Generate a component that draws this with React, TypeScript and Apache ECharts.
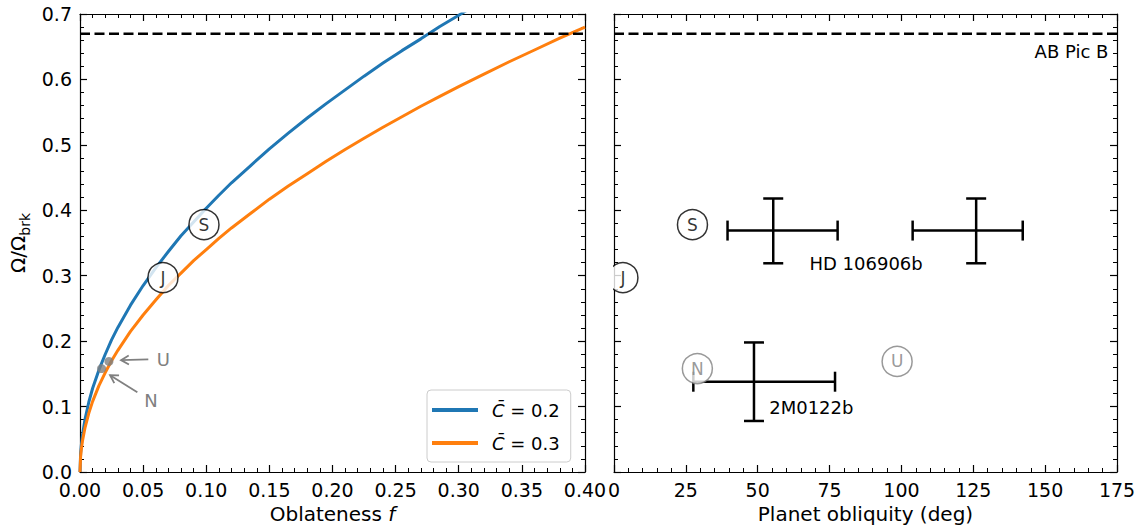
import React, { useEffect, useRef } from "react";
import * as echarts from "echarts";

// ---- Data ----
const oblatenessBlue = [0, 0.0005, 0.001, 0.002, 0.004, 0.007, 0.01, 0.015, 0.02, 0.025, 0.03, 0.04, 0.05, 0.06, 0.07, 0.08, 0.09, 0.1, 0.11, 0.12, 0.135, 0.15, 0.165, 0.18, 0.195, 0.21, 0.225, 0.24, 0.255, 0.27, 0.285, 0.3, 0.31];
const omegaBlue = [0, 0.029, 0.040, 0.057, 0.081, 0.107, 0.128, 0.156, 0.180, 0.202, 0.221, 0.255, 0.285, 0.312, 0.337, 0.361, 0.382, 0.403, 0.423, 0.442, 0.468, 0.494, 0.518, 0.541, 0.563, 0.584, 0.605, 0.625, 0.644, 0.662, 0.681, 0.698, 0.710];
const oblatenessOrange = [0, 0.0005, 0.001, 0.002, 0.004, 0.007, 0.01, 0.015, 0.02, 0.025, 0.03, 0.04, 0.05, 0.06, 0.07, 0.08, 0.09, 0.1, 0.11, 0.12, 0.135, 0.15, 0.165, 0.18, 0.195, 0.21, 0.225, 0.24, 0.255, 0.27, 0.285, 0.3, 0.32, 0.34, 0.36, 0.38, 0.4];
const omegaOrange = [0, 0.024, 0.034, 0.048, 0.068, 0.090, 0.108, 0.132, 0.152, 0.170, 0.186, 0.215, 0.240, 0.263, 0.285, 0.304, 0.323, 0.340, 0.357, 0.373, 0.395, 0.417, 0.437, 0.456, 0.475, 0.493, 0.510, 0.527, 0.543, 0.559, 0.574, 0.589, 0.608, 0.627, 0.645, 0.663, 0.680];
const seriesNames = ["C̄ = 0.2", "C̄ = 0.3"];

const breakupLimit = 0.67; // AB Pic B

const gasGiantNames = ["J", "S"];
const gasGiantF = [0.0657, 0.0982];
const gasGiantOmega = [0.297, 0.378];
const gasGiantObliquity = [3.1, 27.3];

const iceGiantNames = ["U", "N"];
const iceGiantF = [0.0229, 0.0171];
const iceGiantOmega = [0.169, 0.158];
const iceGiantObliquity = [98.5, 29.0];

// error bars: [obliquity, omega, obliquityLow, obliquityHigh, omegaLow, omegaHigh]
const errorBarPoints = [
  [55.4, 0.369, 39.5, 77.8, 0.319, 0.418],
  [126.0, 0.369, 103.9, 142.2, 0.319, 0.418],
  [48.7, 0.138, 27.6, 76.9, 0.078, 0.198],
];

// annotations
const arrowLabels = ["U", "N"];
const arrowLabelF = [0.066, 0.0562];
const arrowLabelOmega = [0.172, 0.110];
const arrowTailF = [0.0541, 0.0454];
const arrowTailOmega = [0.172, 0.122];
const arrowHeadF = [0.0325, 0.0238];
const arrowHeadOmega = [0.171, 0.148];

const objectLabels = ["HD 106906b", "2M0122b", "AB Pic B"];
const objectLabelObliquity = [68.0, 54.0, 172.0];
const objectLabelOmega = [0.319, 0.099, 0.642];
const objectLabelAlign = ["left", "left", "right"];

const FONT = "DejaVu Sans";
const GRAY = "#808080";
const BLUE = "#1f77b4";
const ORANGE = "#ff7f0e";
const TICK_FS = 19;
const NAME_FS = 20;
const ANNOT_FS = 18;

function frameAxis(extra: any) {
  return {
    type: "value",
    axisLine: { show: true, onZero: false, lineStyle: { color: "#000", width: 1.2 } },
    axisTick: { show: true, inside: true, length: 7, lineStyle: { color: "#000", width: 1.2 } },
    minorTick: { show: true, splitNumber: 5, length: 4, lineStyle: { color: "#000", width: 1 } },
    splitLine: { show: false },
    minorSplitLine: { show: false },
    axisLabel: { show: false },
    ...extra,
  };
}

const labelStyle = { show: true, color: "#000", fontSize: TICK_FS, fontFamily: FONT, showMinLabel: true, showMaxLabel: true };

export default function App() {
  const ref = useRef<HTMLDivElement>(null);
  useEffect(() => {
    document.body.style.margin = "0";
    const chart = echarts.init(ref.current!, null, { renderer: "svg" });

    const textSeries = (xIdx: number, texts: string[], xs: number[], ys: number[], aligns: string[], color: string) => ({
      type: "custom",
      xAxisIndex: xIdx,
      yAxisIndex: xIdx,
      z: 5,
      silent: true,
      data: xs.map((x, i) => [x, ys[i]]),
      renderItem: (params: any, api: any) => {
        const p = api.coord([api.value(0), api.value(1)]);
        const i = params.dataIndex;
        return {
          type: "text",
          x: p[0],
          y: p[1],
          style: { text: texts[i], fill: color, fontSize: ANNOT_FS, fontFamily: FONT, align: aligns[i], verticalAlign: "middle" },
        };
      },
    });

    const option: any = {
      animation: false,
      textStyle: { fontFamily: FONT },
      grid: [
        { left: 80, top: 14, width: 505, height: 458 },
        { left: 614, top: 14, width: 503, height: 458 },
      ],
      xAxis: [
        frameAxis({
          gridIndex: 0, position: "bottom", min: 0, max: 0.4, interval: 0.05,
          axisLabel: { ...labelStyle, margin: 8, formatter: (v: number) => v.toFixed(2) },
          name: "{n|Oblateness }{i|f}", nameLocation: "middle", nameGap: 28,
          nameTextStyle: { rich: { n: { fontSize: NAME_FS, fontFamily: FONT, color: "#000" }, i: { fontSize: NAME_FS, fontFamily: FONT, fontStyle: "italic", color: "#000" } } },
        }),
        frameAxis({ gridIndex: 0, position: "top", min: 0, max: 0.4, interval: 0.05 }),
        frameAxis({
          gridIndex: 1, position: "bottom", min: 0, max: 175, interval: 25,
          axisLabel: { ...labelStyle, margin: 8, formatter: (v: number) => String(v) },
          name: "Planet obliquity (deg)", nameLocation: "middle", nameGap: 28,
          nameTextStyle: { fontSize: NAME_FS, fontFamily: FONT, color: "#000" },
        }),
        frameAxis({ gridIndex: 1, position: "top", min: 0, max: 175, interval: 25 }),
      ],
      yAxis: [
        frameAxis({
          gridIndex: 0, position: "left", min: 0, max: 0.7, interval: 0.1,
          axisLabel: { ...labelStyle, margin: 8, formatter: (v: number) => v.toFixed(1) },
          name: "{a|Ω/Ω}{s|brk}", nameLocation: "middle", nameGap: 48, nameRotate: 90,
          nameTextStyle: {
            rich: {
              a: { fontSize: NAME_FS, fontFamily: FONT, color: "#000", lineHeight: 28, verticalAlign: "middle" },
              s: { fontSize: 14, fontFamily: FONT, color: "#000", lineHeight: 28, verticalAlign: "bottom" },
            },
          },
        }),
        frameAxis({ gridIndex: 0, position: "right", min: 0, max: 0.7, interval: 0.1 }),
        frameAxis({ gridIndex: 1, position: "left", min: 0, max: 0.7, interval: 0.1 }),
        frameAxis({ gridIndex: 1, position: "right", min: 0, max: 0.7, interval: 0.1 }),
      ],
      legend: {
        left: 427,
        top: 390,
        orient: "vertical",
        data: seriesNames.map((n) => ({ name: n, icon: "rect" })),
        itemWidth: 46,
        itemHeight: 4,
        itemGap: 11,
        padding: [9, 11, 8, 5],
        borderColor: "#cccccc",
        borderWidth: 1,
        borderRadius: 4,
        backgroundColor: "rgba(255,255,255,0.85)",
        formatter: (name: string) => `{i|C̄} = ${name.split("= ")[1]}`,
        textStyle: {
          fontSize: ANNOT_FS, fontFamily: FONT, color: "#000", padding: [0, 0, 0, 9], lineHeight: 22,
          rich: { i: { fontSize: ANNOT_FS, fontFamily: FONT, fontStyle: "italic", color: "#000", lineHeight: 22 } },
        },
      },
      series: [
        {
          name: seriesNames[0], type: "line", xAxisIndex: 0, yAxisIndex: 0, showSymbol: false, clip: true,
          lineStyle: { color: BLUE, width: 3, join: "round" }, itemStyle: { color: BLUE }, z: 2,
          data: oblatenessBlue.map((f, i) => [f, omegaBlue[i]]),
        },
        {
          name: seriesNames[1], type: "line", xAxisIndex: 0, yAxisIndex: 0, showSymbol: false, clip: true,
          lineStyle: { color: ORANGE, width: 3, join: "round" }, itemStyle: { color: ORANGE }, z: 2,
          data: oblatenessOrange.map((f, i) => [f, omegaOrange[i]]),
        },
        {
          type: "line", xAxisIndex: 0, yAxisIndex: 0, showSymbol: false, silent: true,
          lineStyle: { color: "#000", width: 2.5, type: [10, 4.5] }, z: 2,
          data: [[0, breakupLimit], [0.4, breakupLimit]],
        },
        {
          type: "line", xAxisIndex: 2, yAxisIndex: 2, showSymbol: false, silent: true,
          lineStyle: { color: "#000", width: 2.5, type: [10, 4.5] }, z: 2,
          data: [[0, breakupLimit], [175, breakupLimit]],
        },
        // Jupiter / Saturn circles (left)
        {
          type: "scatter", xAxisIndex: 0, yAxisIndex: 0, symbol: "circle", symbolSize: 30, z: 4,
          itemStyle: { color: "#fff", borderColor: "#000", borderWidth: 1.5 },
          label: { show: true, position: "inside", color: "#000", fontSize: 17, fontFamily: FONT, formatter: (p: any) => gasGiantNames[p.dataIndex] },
          data: gasGiantF.map((f, i) => [f, gasGiantOmega[i]]),
        },
        // Uranus / Neptune dots (left)
        {
          type: "scatter", xAxisIndex: 0, yAxisIndex: 0, symbol: "circle", symbolSize: 9, z: 4,
          itemStyle: { color: GRAY },
          data: iceGiantF.map((f, i) => [f, iceGiantOmega[i]]),
        },
        // arrows (left)
        {
          type: "custom", xAxisIndex: 0, yAxisIndex: 0, z: 4, silent: true,
          data: arrowTailF.map((f, i) => [f, arrowTailOmega[i], arrowHeadF[i], arrowHeadOmega[i]]),
          renderItem: (params: any, api: any) => {
            const a = api.coord([api.value(0), api.value(1)]);
            const b = api.coord([api.value(2), api.value(3)]);
            const ang = Math.atan2(b[1] - a[1], b[0] - a[0]);
            const L = 9, w = Math.PI / 6;
            const h1 = [b[0] - L * Math.cos(ang - w), b[1] - L * Math.sin(ang - w)];
            const h2 = [b[0] - L * Math.cos(ang + w), b[1] - L * Math.sin(ang + w)];
            const st = { stroke: GRAY, lineWidth: 1.8, fill: "none" };
            return {
              type: "group",
              children: [
                { type: "line", shape: { x1: a[0], y1: a[1], x2: b[0], y2: b[1] }, style: st },
                { type: "polyline", shape: { points: [h1, b, h2] }, style: st },
              ],
            };
          },
        },
        textSeries(0, arrowLabels, arrowLabelF, arrowLabelOmega, ["center", "center"], GRAY),
        // error bars (right)
        {
          type: "custom", xAxisIndex: 2, yAxisIndex: 2, z: 2, silent: true,
          data: errorBarPoints,
          renderItem: (params: any, api: any) => {
            const c = api.coord([api.value(0), api.value(1)]);
            const xl = api.coord([api.value(2), api.value(1)]);
            const xh = api.coord([api.value(3), api.value(1)]);
            const yl = api.coord([api.value(0), api.value(4)]);
            const yh = api.coord([api.value(0), api.value(5)]);
            const cap = 10;
            const st = { stroke: "#000", lineWidth: 2.5 };
            const ln = (x1: number, y1: number, x2: number, y2: number) => ({ type: "line", shape: { x1, y1, x2, y2 }, style: st });
            return {
              type: "group",
              children: [
                ln(xl[0], c[1], xh[0], c[1]),
                ln(xl[0], c[1] - cap, xl[0], c[1] + cap),
                ln(xh[0], c[1] - cap, xh[0], c[1] + cap),
                ln(c[0], yl[1], c[0], yh[1]),
                ln(c[0] - cap, yl[1], c[0] + cap, yl[1]),
                ln(c[0] - cap, yh[1], c[0] + cap, yh[1]),
              ],
            };
          },
        },
        // Jupiter / Saturn circles (right)
        {
          type: "scatter", xAxisIndex: 2, yAxisIndex: 2, symbol: "circle", symbolSize: 30, z: 4,
          itemStyle: { color: "#fff", borderColor: "#000", borderWidth: 1.5 },
          label: { show: true, position: "inside", color: "#000", fontSize: 17, fontFamily: FONT, formatter: (p: any) => gasGiantNames[p.dataIndex] },
          data: gasGiantObliquity.map((o, i) => [o, gasGiantOmega[i]]),
        },
        // Uranus / Neptune circles (right)
        {
          type: "scatter", xAxisIndex: 2, yAxisIndex: 2, symbol: "circle", symbolSize: 30, z: 4,
          itemStyle: { color: "#fff", borderColor: GRAY, borderWidth: 1.5 },
          label: { show: true, position: "inside", color: GRAY, fontSize: 17, fontFamily: FONT, formatter: (p: any) => iceGiantNames[p.dataIndex] },
          data: iceGiantObliquity.map((o, i) => [o, iceGiantOmega[i]]),
        },
        textSeries(2, objectLabels, objectLabelObliquity, objectLabelOmega, objectLabelAlign, "#000"),
      ],
      graphic: [
        { type: "rect", z: 100, shape: { x: 592, y: 255, width: 21, height: 45 }, style: { fill: "#fff" } },
      ],
    };
    chart.setOption(option);
    return () => chart.dispose();
  }, []);
  return <div ref={ref} style={{ position: "absolute", left: 0, top: 0, width: 1143, height: 529 }} />;
}
